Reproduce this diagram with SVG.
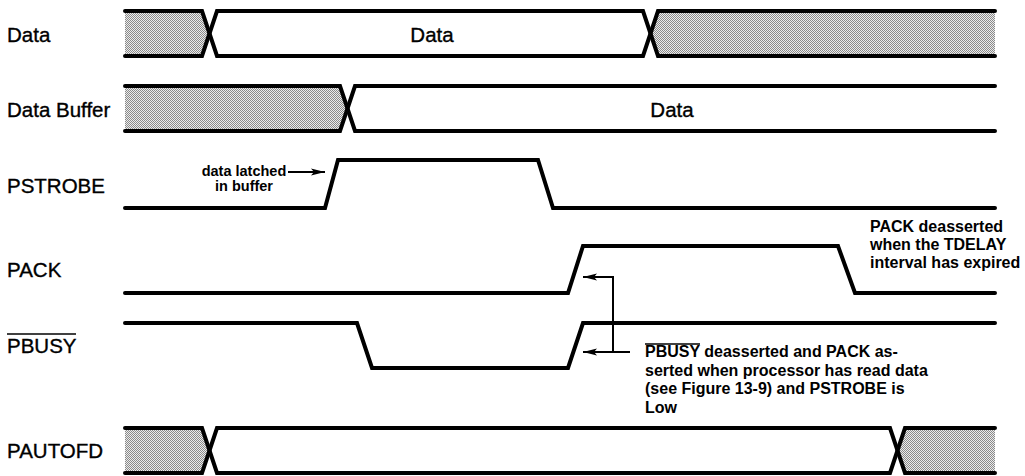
<svg xmlns="http://www.w3.org/2000/svg" width="1025" height="476" viewBox="0 0 1025 476">
<defs>
<pattern id="dots" width="2" height="2" patternUnits="userSpaceOnUse">
<rect width="2" height="2" fill="#ececec"/>
<rect width="1" height="1" fill="#8a8a8a"/>
<rect x="1" y="1" width="1" height="1" fill="#8a8a8a"/>
</pattern>
<marker id="ah" viewBox="0 0 14 8" refX="14" refY="4" markerWidth="14" markerHeight="8" markerUnits="userSpaceOnUse" orient="auto">
<path d="M0,0.5 L14,4 L0,7.5 L3,4 Z" fill="#000"/>
</marker>
</defs>
<style>
.sig{fill:none;stroke:#000;stroke-width:4;stroke-linecap:round;stroke-linejoin:miter}
.shade{fill:url(#dots);stroke:none}
.lbl{font-family:"Liberation Sans",Arial,sans-serif;font-size:20.5px;fill:#000;stroke:#000;stroke-width:0.35}
.note{font-family:"Liberation Sans",Arial,sans-serif;font-size:16px;font-weight:bold;fill:#000}
.note2{font-family:"Liberation Sans",Arial,sans-serif;font-size:14.5px;font-weight:bold;fill:#000}
.conn{fill:none;stroke:#000;stroke-width:2}
.ovl{stroke:#000;stroke-width:1.5}
</style>
<rect width="1025" height="476" fill="#fff"/>

<g id="data">
<text class="lbl" x="7" y="42">Data</text>
<path class="shade" d="M125,11 H202 L209.5,33.5 L202,56 H125 Z"/>
<path class="shade" d="M995,11 H658 L650.5,33.5 L658,56 H995 Z"/>
<path class="sig" d="M125,11 H202 L217,56 H643 L658,11 H995"/>
<path class="sig" d="M125,56 H202 L217,11 H643 L658,56 H995"/>
<text class="lbl" x="432" y="42" text-anchor="middle">Data</text>
</g>

<g id="data-buffer">
<text class="lbl" x="7" y="117">Data Buffer</text>
<path class="shade" d="M125,86 H340 L347.5,108.5 L340,131 H125 Z"/>
<path class="sig" d="M125,86 H340 L355,131 H995"/>
<path class="sig" d="M125,131 H340 L355,86 H995"/>
<text class="lbl" x="672" y="117" text-anchor="middle">Data</text>
</g>

<g id="pstrobe">
<text class="lbl" x="7" y="193">PSTROBE</text>
<path class="sig" d="M125,208 H325 L338,160 H538 L553,208 H995"/>
<text class="note2" x="244" y="176" text-anchor="middle">data latched</text>
<text class="note2" x="244" y="191" text-anchor="middle">in buffer</text>
</g>

<g id="pack">
<text class="lbl" x="7" y="277">PACK</text>
<path class="sig" d="M125,293 H568 L583,246 H838 L855,293 H995"/>
<text class="note" x="870" y="232">PACK deasserted</text>
<text class="note" x="870" y="250">when the TDELAY</text>
<text class="note" x="870" y="268">interval has expired</text>
</g>

<g id="pbusy">
<text class="lbl" x="7" y="353">PBUSY</text>
<line class="ovl" x1="7" y1="334" x2="76" y2="334"/>
<path class="sig" d="M125,323 H357 L372,368 H568 L583,323 H995"/>
<text class="note" x="645" y="357">PBUSY deasserted and PACK as-</text>
<line class="ovl" x1="645" y1="344" x2="700" y2="344"/>
<text class="note" x="645" y="375.5">serted when processor has read data</text>
<text class="note" x="645" y="394">(see Figure 13-9) and PSTROBE is</text>
<text class="note" x="645" y="412.5">Low</text>
</g>

<g id="pautofd">
<text class="lbl" x="7" y="458">PAUTOFD</text>
<path class="shade" d="M125,428 H202 L209.5,450.5 L202,473 H125 Z"/>
<path class="shade" d="M995,428 H905 L897.5,450.5 L905,473 H995 Z"/>
<path class="sig" d="M125,428 H202 L217,473 H890 L905,428 H995"/>
<path class="sig" d="M125,473 H202 L217,428 H890 L905,473 H995"/>
</g>

<g id="connectors">
<path class="conn" d="M288,172 H325" marker-end="url(#ah)"/>
<path class="conn" d="M613,352 V277 H583" marker-end="url(#ah)"/>
<path class="conn" d="M630,352 H583" marker-end="url(#ah)"/>
</g>
</svg>
